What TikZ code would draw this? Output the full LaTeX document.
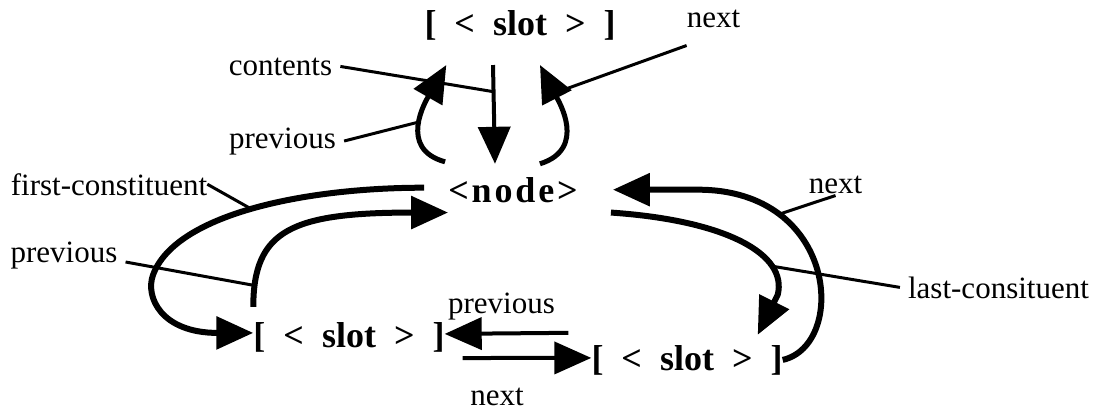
\documentclass[tikz,border=0pt]{standalone}
\usepackage{fontspec}
\setmainfont{Liberation Serif}
\newfontfamily\spacedfont[LetterSpace=8]{Liberation Serif}
\usetikzlibrary{arrows.meta}
\newcommand\slottext{[\hspace{.5em}<\hspace{.5em}slot\hspace{.5em}>\hspace{.5em}]}
\tikzset{
  lbl/.style={font=\fontsize{31}{36}\selectfont,anchor=base,inner xsep=8pt,inner ysep=2pt},
  slotbox/.style={font=\fontsize{36}{40}\selectfont\bfseries,anchor=base,inner sep=0pt},
  link/.style={line width=#1,-{Triangle[length=37pt,width=32pt]}},
  link/.default=6pt,
  leader/.style={line width=3pt}
}
\begin{document}
\begin{tikzpicture}[x=1pt,y=-1pt]
\useasboundingbox (0,0) rectangle (1096,410);
% slots and the node
\node[slotbox] (slotA) at (520,35) {\slottext};
\node[slotbox,font=\fontsize{36}{40}\selectfont\spacedfont\bfseries] (nd) at (513,202) {<node>};
\node[slotbox] (slotB) at (349,347) {\slottext};
\node[slotbox] (slotC) at (687,370) {\slottext};
% labels
\node[lbl] (contents) at (280.5,75) {contents};
\node[lbl] (prevA) at (282.5,148) {previous};
\node[lbl] (nextA) at (713.5,27) {next};
\node[lbl] (firstc) at (109,195) {first-constituent};
\node[lbl] (prevB) at (64,262) {previous};
\node[lbl] (prevC) at (501.5,313) {previous};
\node[lbl] (nextC) at (497,405) {next};
\node[lbl] (nextD) at (835.5,193) {next};
\node[lbl] (lastc) at (998.5,298) {last-consituent};
% links of the upper slot
\draw[link=4pt] ([shift={(-27,25)}]slotA.south) -- ([shift={(-18,-13)}]nd.north) coordinate[pos=.27] (cntPt);
\draw[link=5pt] ([shift={(-3,-15)}]nd.north west) .. controls +(-48,-13) and +(-20,35) .. ([shift={(22,25)}]slotA.south west) coordinate[pos=.5] (prvPt);
\draw[link=5pt] ([shift={(-38,-13)}]nd.north east) .. controls +(48,-15) and +(18,35) .. ([shift={(20,25)}]slotA.south) coordinate[pos=.75] (nxtPt);
% constituents
\draw[link=6pt] ([shift={(-24,-2)}]nd.west) .. controls +(-122,0) and +(22,-60) .. (153,275) coordinate[pos=.5] (fstPt)
  .. controls +(-8,22) and +(-92,0) .. ([yshift=4pt]slotB.west);
\draw[link=6pt] ([yshift=15pt]slotB.north west) .. controls +(0,-77) and +(-156,0) .. ([yshift=-10pt]nd.south west) coordinate[pos=.1] (pvbPt);
\draw[link=6pt] (slotC.east) .. controls +(65,-15) and +(140,0) .. ([xshift=120pt]nd.east) coordinate[pos=.75] (nxdPt)
  -- ([xshift=35pt]nd.east);
\draw[link=6pt] ([shift={(33,10)}]nd.south east) .. controls +(117,8) and +(10,-40) .. ([shift={(-5,-50)}]slotC.north east) coordinate[pos=.75] (lstPt)
  -- ([shift={(-25,-10)}]slotC.north east);
% between the lower slots
\draw[link=4pt] ([shift={(-23,-12)}]slotC.north west) -- ([yshift=3pt]slotB.east);
\draw[link=4pt] ([shift={(18,6)}]slotB.south east) -- ([yshift=2pt]slotC.west);
% leaders
\draw[leader] (contents.east) -- (cntPt);
\draw[leader] (prevA.east) -- (prvPt);
\draw[leader] ([shift={(8,16)}]nextA.south west) -- (nxtPt);
\draw[leader] ([xshift=-8pt]firstc.east) -- (fstPt);
\draw[leader] (prevB.base east) -- (pvbPt);
\draw[leader] (nextD.south) -- (nxdPt);
\draw[leader] (lastc.west) -- (lstPt);
\end{tikzpicture}
\end{document}
